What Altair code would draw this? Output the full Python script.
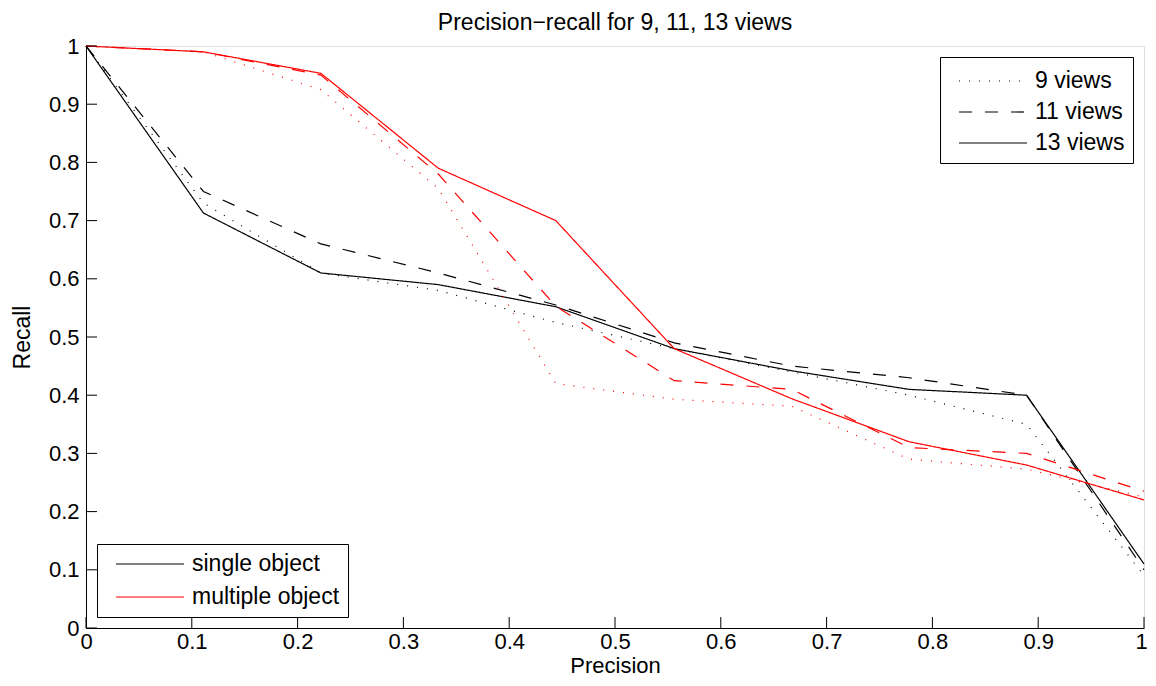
import altair as alt
import pandas as pd

# ---- data ----
precision = [0.0, 0.111, 0.222, 0.333, 0.444, 0.556, 0.667, 0.778, 0.889, 1.0]

single_9 = [1.0, 0.73, 0.61, 0.58, 0.525, 0.48, 0.44, 0.40, 0.35, 0.09]
single_11 = [1.0, 0.75, 0.66, 0.61, 0.555, 0.49, 0.45, 0.43, 0.40, 0.10]
single_13 = [1.0, 0.713, 0.61, 0.59, 0.552, 0.48, 0.442, 0.41, 0.40, 0.11]

multi_9 = [1.0, 0.99, 0.925, 0.755, 0.42, 0.393, 0.381, 0.29, 0.273, 0.225]
multi_11 = [1.0, 0.99, 0.95, 0.78, 0.553, 0.425, 0.41, 0.31, 0.30, 0.235]
multi_13 = [1.0, 0.99, 0.953, 0.79, 0.70, 0.48, 0.394, 0.32, 0.28, 0.22]

objects = ["single object", "multiple object"]
views = ["9 views", "11 views", "13 views"]
tick_values = [0, 0.1, 0.2, 0.3, 0.4, 0.5, 0.6, 0.7, 0.8, 0.9, 1]

series = {
    ("single object", "9 views"): single_9,
    ("single object", "11 views"): single_11,
    ("single object", "13 views"): single_13,
    ("multiple object", "9 views"): multi_9,
    ("multiple object", "11 views"): multi_11,
    ("multiple object", "13 views"): multi_13,
}

rows = []
for (obj, v), vals in series.items():
    for p, r in zip(precision, vals):
        rows.append({"precision": p, "recall": r, "object": obj, "views": v,
                     "series": obj + " " + v})
df = pd.DataFrame(rows)
ticks_df = pd.DataFrame({"v": tick_values})

FONT = "Liberation Sans"
W, H = 1058, 582
TICK = 11

xscale = alt.Scale(domain=[0, 1], nice=False, zero=False)
yscale = alt.Scale(domain=[0, 1], nice=False, zero=False)

common_axis = dict(values=tick_values, format="~g", grid=False, ticks=False,
                   tickSize=0, labelFontSize=22, labelFont=FONT,
                   titleFont=FONT, titleFontWeight="normal",
                   labelColor="black", titleColor="black",
                   domainColor="black", domainWidth=1, labelFlush=False)
X_AXIS = alt.Axis(labelPadding=3, titlePadding=3, titleFontSize=22,
                  labelOffset={"condition": {"test": "datum.value === 1",
                                             "value": -3},
                               "value": 0},
                  **common_axis)
Y_AXIS = alt.Axis(labelPadding=7, titlePadding=14, titleFontSize=23,
                  **common_axis)

# legend symbol: a flat custom path, so rows stay compact (length ~68px)
SYM = "M-3,0L3,0"
SYM_SIZE = 514
legend_common = dict(offset=11, strokeColor="black",
                     fillColor="white", padding=8, symbolType=SYM,
                     symbolSize=SYM_SIZE, symbolStrokeWidth=1.2,
                     symbolOffset=33, labelOffset=30, labelFontSize=23,
                     labelFont=FONT, labelColor="black", labelLimit=400,
                     cornerRadius=0)

lines = alt.Chart(df).mark_line(strokeWidth=1.2).encode(
    x=alt.X("precision:Q", scale=xscale, title="Precision", axis=X_AXIS),
    y=alt.Y("recall:Q", scale=yscale, title="Recall", axis=Y_AXIS),
    color=alt.Color("object:N", sort=objects,
                    scale=alt.Scale(domain=objects, range=["black", "red"]),
                    legend=alt.Legend(title=None, orient="bottom-left",
                                      rowPadding=9, **legend_common)),
    strokeDash=alt.StrokeDash("views:N", sort=views,
                              scale=alt.Scale(domain=views,
                                              range=[[1, 9], [13, 13], [1, 0]]),
                              legend=alt.Legend(title=" ", titleFontSize=4,
                                                titlePadding=0,
                                                orient="top-right", rowPadding=7,
                                                symbolStrokeColor="black",
                                                **legend_common)),
    detail="series:N",
    order="precision:Q",
)

xticks = alt.Chart(ticks_df).mark_rule(color="black", strokeWidth=1).encode(
    x=alt.X("v:Q", scale=xscale, title="Precision", axis=X_AXIS),
    y=alt.value(H),
    y2=alt.value(H - TICK),
)

yticks = alt.Chart(ticks_df).mark_rule(color="black", strokeWidth=1).encode(
    y=alt.Y("v:Q", scale=yscale, title="Recall", axis=Y_AXIS),
    x=alt.value(0),
    x2=alt.value(TICK),
)

chart = alt.layer(lines, xticks, yticks).properties(
    width=W,
    height=H,
    title=alt.Title("Precision\u2212recall for 9, 11, 13 views", fontSize=23,
                    font=FONT, fontWeight="normal", color="black",
                    anchor="middle", offset=0),
    autosize=alt.AutoSizeParams(type="none"),
    padding={"left": 78, "top": 38, "right": 4, "bottom": 50},
).configure_view(stroke=None).configure(background="white")

chart.save("out.html", embed_options={"renderer": "svg", "actions": False})
